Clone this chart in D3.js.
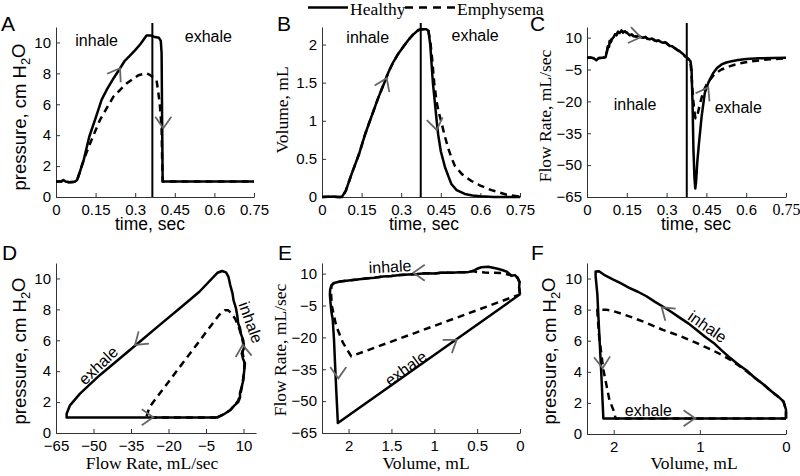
<!DOCTYPE html>
<html><head><meta charset="utf-8">
<script src="https://cdn.jsdelivr.net/npm/d3@7"></script>
<style>body{margin:0;background:#fff} svg{display:block}</style>
</head><body>
<script>
// ---------------- DATA ----------------
const seriesNames = ["Healthy", "Emphysema"];
const timeTicks = [0, 0.15, 0.3, 0.45, 0.6, 0.75];
const timeTickLabels = ["0", "0.15", "0.3", "0.45", "0.6", "0.75"];
const pressureTicks = [0, 2, 4, 6, 8, 10];
const pressureTickLabels = ["0", "2", "4", "6", "8", "10"];
const volumeTicks = [0, 0.5, 1, 1.5, 2];
const volumeTickLabels = ["0", "0.5", "1", "1.5", "2"];
const flowTicks = [10, -5, -20, -35, -50, -65];
const flowTickLabels = ["10", "\u22125", "\u221220", "\u221235", "\u221250", "\u221265"];
const flowXTicks = [-65, -50, -35, -20, -5, 10];
const flowXTickLabels = ["\u221265", "\u221250", "\u221235", "\u221220", "\u22125", "10"];
const volXTicksE = [2, 1.5, 1, 0.5, 0];
const volXTickLabelsE = ["2", "1.5", "1", "0.5", "0"];
const volXTicksF = [2, 1, 0];
const volXTickLabelsF = ["2", "1", "0"];

// A: pressure vs time  [t, p]
const aHealthy = [[0,1.0],[0.02,1.0],[0.028,1.1],[0.036,1.0],[0.05,0.95],[0.07,0.98],[0.08,1.1],[0.09,1.6],[0.105,2.4],[0.126,3.9],[0.15,5.1],[0.173,6.3],[0.194,7.0],[0.215,7.6],[0.238,8.2],[0.26,8.8],[0.28,9.15],[0.3,9.5],[0.32,9.9],[0.343,10.45],[0.36,10.45],[0.375,10.35],[0.39,10.3],[0.397,10.1],[0.4,9.3],[0.402,5.0],[0.404,1.0],[0.75,1.0]];
const aEmph = [[0,1.0],[0.02,1.0],[0.028,1.1],[0.036,1.0],[0.05,0.95],[0.07,0.98],[0.08,1.1],[0.09,1.6],[0.105,2.4],[0.129,3.46],[0.166,4.97],[0.217,6.48],[0.267,7.34],[0.312,7.88],[0.343,8.0],[0.356,7.9],[0.372,7.7],[0.381,7.55],[0.388,6.7],[0.394,5.83],[0.4,4.5],[0.402,2.5],[0.404,1.0],[0.75,1.0]];
// B: volume vs time  [t, V]
const bHealthy = [[0,0],[0.04,0.005],[0.06,0],[0.075,0],[0.09,0.08],[0.113,0.31],[0.14,0.56],[0.164,0.83],[0.19,1.08],[0.214,1.31],[0.235,1.49],[0.252,1.64],[0.27,1.77],[0.289,1.88],[0.31,1.98],[0.327,2.06],[0.345,2.13],[0.365,2.19],[0.38,2.2],[0.395,2.2],[0.403,2.18],[0.41,2.0],[0.415,1.75],[0.42,1.5],[0.428,1.22],[0.435,0.98],[0.44,0.82],[0.45,0.6],[0.466,0.39],[0.48,0.26],[0.49,0.17],[0.51,0.09],[0.541,0.04],[0.57,0.02],[0.6,0.01],[0.65,0],[0.75,0]];
const bEmph = [[0,0],[0.04,0.005],[0.06,0],[0.075,0],[0.09,0.08],[0.113,0.31],[0.14,0.56],[0.164,0.83],[0.19,1.08],[0.214,1.31],[0.235,1.49],[0.252,1.64],[0.27,1.77],[0.289,1.88],[0.31,1.98],[0.327,2.06],[0.345,2.13],[0.365,2.19],[0.38,2.2],[0.395,2.2],[0.403,2.18],[0.41,2.05],[0.417,1.82],[0.425,1.5],[0.434,1.25],[0.443,1.1],[0.453,0.97],[0.465,0.8],[0.478,0.64],[0.49,0.52],[0.503,0.41],[0.53,0.3],[0.566,0.21],[0.6,0.15],[0.642,0.09],[0.7,0.03],[0.75,0.005]];
// C: flow rate vs time  [t, F]
const cHealthy = [[0,0.5],[0.015,0.6],[0.025,0.3],[0.035,-0.6],[0.045,0.4],[0.06,0.5],[0.07,0.8],[0.075,3.5],[0.079,6],[0.083,5.6],[0.086,8.4],[0.09,8.0],[0.093,9.2],[0.1,10.2],[0.106,11.6],[0.111,11.2],[0.117,12.7],[0.123,12.2],[0.13,13.4],[0.136,12.4],[0.142,12.9],[0.148,12.5],[0.155,11.8],[0.161,11.1],[0.168,11.5],[0.175,10.8],[0.186,10.5],[0.195,10.9],[0.205,10.1],[0.211,10.0],[0.22,10.3],[0.228,9.5],[0.237,9.2],[0.245,9.6],[0.255,8.7],[0.262,8.4],[0.27,8.6],[0.28,7.9],[0.287,7.6],[0.295,7.8],[0.303,7.0],[0.312,6.1],[0.32,6.0],[0.328,5.3],[0.337,4.5],[0.345,3.9],[0.356,2.9],[0.363,2.2],[0.369,1.3],[0.375,0.8],[0.381,0.05],[0.386,-0.5],[0.39,-1.1],[0.394,-5],[0.398,-22],[0.401,-42],[0.405,-56],[0.408,-61],[0.411,-58],[0.416,-48],[0.422,-39.7],[0.432,-27.1],[0.444,-16],[0.457,-11.3],[0.476,-6.6],[0.49,-4.3],[0.507,-2.6],[0.525,-1.7],[0.545,-1.1],[0.57,-0.5],[0.6,-0.1],[0.65,0.3],[0.7,0.4],[0.75,0.5]];
const cEmphExhale = [[0.394,-8],[0.398,-15],[0.401,-20],[0.405,-25],[0.409,-28],[0.415,-27],[0.425,-21.6],[0.438,-15.3],[0.455,-11],[0.475,-8],[0.488,-6.5],[0.507,-5],[0.54,-3.4],[0.57,-2.2],[0.62,-1.1],[0.68,-0.3],[0.75,0.2]];
// D: pressure vs flow rate  [F, p]
const dHealthy = [[-0.7,1.0],[2,1.2],[4.6,1.47],[6.5,1.8],[7.9,2.0],[8.6,2.3],[8.6,2.6],[9.3,3.0],[9.9,3.4],[10.2,3.9],[10.6,4.5],[9.8,4.8],[9.3,5.14],[10.2,5.5],[9.9,6.0],[9.0,6.4],[8.6,6.8],[7.9,7.08],[7.5,7.6],[7.0,8.06],[6.0,8.6],[5.6,9.03],[4.7,9.57],[4.0,10.1],[3.0,10.39],[1.4,10.48],[-0.35,10.37],[-7.65,9.14],[-15.6,8.06],[-23.6,6.98],[-31.5,5.9],[-39.5,4.82],[-47.5,3.74],[-55.4,2.55],[-59.4,1.79],[-60.75,1.25],[-60.75,1.0],[-0.7,1.0]];
const dEmph = [[-0.7,1.0],[2,1.2],[4.6,1.47],[6.5,1.8],[7.9,2.1],[8.9,2.6],[9.6,3.2],[10.2,3.9],[10.4,4.6],[9.6,5.2],[9.9,5.8],[9.0,6.4],[8.0,6.9],[6.8,7.35],[5.2,7.75],[3.8,7.95],[2.6,7.95],[1.5,7.8],[0.3,7.65],[-27.6,1.68],[-28.9,1.0],[-0.7,1.0]];
// E: flow rate vs volume  [V, F]
const eHealthy = [[0,0.25],[0.01,3.5],[0.005,6],[0.03,8.2],[0.06,9.3],[0.1,9.0],[0.15,10.8],[0.2,11.6],[0.25,12.2],[0.3,12.6],[0.37,13.2],[0.45,13.0],[0.5,12.3],[0.55,11.2],[0.62,10.6],[0.7,10.7],[0.8,10.4],[0.9,10.5],[1.0,10.1],[1.1,10.2],[1.2,9.8],[1.3,9.6],[1.4,9.3],[1.5,8.9],[1.6,8.6],[1.7,8.1],[1.8,7.7],[1.9,7.2],[2.0,6.8],[2.1,6.3],[2.17,5.6],[2.2,4.5],[2.215,2.5],[2.218,0],[2.21,-4],[2.2,-8],[2.185,-11.6],[2.17,-21],[2.16,-30.4],[2.144,-44.6],[2.135,-52],[2.125,-60.3],[0,0.25]];
const eEmph = [[0,0.25],[0.01,3.5],[0.005,6],[0.03,8.2],[0.06,7.5],[0.1,9.2],[0.2,10.2],[0.3,10.4],[0.41,10.5],[0.5,10.8],[0.55,11.2],[0.62,10.6],[0.7,10.7],[0.8,10.4],[0.9,10.5],[1.0,10.1],[1.1,10.2],[1.2,9.8],[1.3,9.6],[1.4,9.3],[1.5,8.9],[1.6,8.6],[1.7,8.1],[1.8,7.7],[1.9,7.2],[2.0,6.8],[2.1,6.3],[2.17,5.6],[2.2,4.5],[2.205,1],[2.195,-5.3],[2.144,-14.7],[2.066,-22.5],[1.969,-28.9],[1.0,-14.6],[0.5,-7.2],[0,0.25]];
// F: pressure vs volume  [V, p]
const fHealthy = [[0,1.0],[0,1.57],[0.03,2.1],[0.09,2.4],[0.17,2.75],[0.26,3.18],[0.36,3.6],[0.46,4.1],[0.55,4.45],[0.65,4.9],[0.75,5.4],[0.84,5.86],[0.94,6.25],[1.04,6.7],[1.13,7.1],[1.23,7.47],[1.33,7.85],[1.43,8.2],[1.52,8.5],[1.62,8.86],[1.72,9.15],[1.82,9.4],[1.92,9.7],[2.01,9.94],[2.1,10.2],[2.17,10.47],[2.21,10.45],[2.21,10.15],[2.19,9.0],[2.17,6.7],[2.145,4.0],[2.12,1.0],[0,1.0]];
const fEmph = [[0,1.0],[0,1.57],[0.03,2.1],[0.09,2.4],[0.17,2.75],[0.26,3.18],[0.36,3.6],[0.46,4.05],[0.55,4.4],[0.65,4.79],[0.75,5.1],[0.84,5.35],[0.94,5.6],[1.04,5.86],[1.23,6.3],[1.43,6.7],[1.62,7.15],[1.82,7.57],[2.0,7.9],[2.09,8.0],[2.19,8.0],[2.19,7.9],[2.17,6.3],[2.12,4.14],[2.05,2.2],[1.99,1.35],[1.98,1.0],[0,1.0]];

// transition time markers (sec)
const markerTimes = {A: 0.365, B: 0.374, C: 0.376};

// direction arrows: [x, y, pointing angle in degrees]
const arrowsA = [[0.2424,8.33,-58],[0.4064,4.45,90]];
const arrowsB = [[0.245,1.557,-66],[0.4345,0.879,80]];
const arrowsC = [[0.2024,10.15,11],[0.457,-13.4,-60]];
const arrowsD = [[-33.4,5.7,140],[-26.1,1.02,0],[9.68,5.7,-95]];
const arrowsE = [[1.245,10.4,180],[2.12,-39.3,90],[0.739,-21.2,-35]];
const arrowsF = [[1.443,8.15,-140],[2.128,4.23,87],[1.056,1.01,0]];

// phase labels: [text, x, y, rotation]
const labelsA = [["inhale",0.154,10.15,0],["exhale",0.577,10.4,0]];
const labelsB = [["inhale",0.173,2.095,0],["exhale",0.58,2.125,0]];
const labelsC = [["inhale",0.181,-21.7,0],["exhale",0.57,-22.8,0]];
const labelsD = [["exhale",-48.1,4.37,-43.6],["inhale",12.9,7.15,70]];
const labelsE = [["inhale",1.517,13.25,-3],["exhale",1.332,-34.6,-35.7]];
const labelsF = [["inhale",0.911,6.9,34.9],["exhale",1.598,1.54,0]];

// ---------------- RENDER ----------------
const SANS = "'Liberation Sans', Arial, Helvetica, sans-serif";
const SERIF = "'Liberation Serif', 'Times New Roman', serif";
const svg = d3.select("body").append("svg").attr("width", 800).attr("height", 476);
svg.append("rect").attr("width", 800).attr("height", 476).attr("fill", "#fff");

const panels = [
  {id:"A", box:[56,254,27,197], xDomain:[0,0.75], yDomain:[0,11], xTicks:timeTicks, xTL:timeTickLabels, yTicks:pressureTicks, yTL:pressureTickLabels,
   series:[aHealthy,aEmph], marker:markerTimes.A, arrows:arrowsA, labels:labelsA, letter:[1,31],
   xLabel:{t:"time, sec", f:SANS, s:17.5, x:150, y:229.5}, yLabel:{t:"pressure", f:SANS, s:18.5, x:20, y:117}},
  {id:"B", box:[322,520,27,197], xDomain:[0,0.75], yDomain:[0,2.23], xTicks:timeTicks, xTL:timeTickLabels, yTicks:volumeTicks, yTL:volumeTickLabels,
   series:[bHealthy,bEmph], marker:markerTimes.B, arrows:arrowsB, labels:labelsB, letter:[277,31],
   xLabel:{t:"time, sec", f:SANS, s:17.5, x:424, y:229.5}, yLabel:{t:"Volume, mL", f:SERIF, s:17.5, x:282, y:110}},
  {id:"C", box:[587,786,27,197], xDomain:[0,0.75], yDomain:[-65,15], xTicks:timeTicks, xTL:timeTickLabels, yTicks:flowTicks, yTL:flowTickLabels,
   series:[cHealthy, cHealthy.filter(d=>d[0]<=0.39).concat(cEmphExhale)], marker:markerTimes.C, arrows:arrowsC, labels:labelsC, letter:[530,31],
   xLabel:{t:"time, sec", f:SANS, s:17.5, x:696, y:229.5}, yLabel:{t:"Flow Rate, mL/sec", f:SERIF, s:17.5, x:545, y:116}, lastXTickSerif:true},
  {id:"D", box:[56,256,263,433], xDomain:[-65,15], yDomain:[0,11], xTicks:flowXTicks, xTL:flowXTickLabels, yTicks:pressureTicks, yTL:pressureTickLabels,
   series:[dHealthy,dEmph], arrows:arrowsD, labels:labelsD, letter:[2,260],
   xLabel:{t:"Flow Rate, mL/sec", f:SERIF, s:17.5, x:152, y:468.5}, yLabel:{t:"pressure", f:SANS, s:18.5, x:20, y:351}},
  {id:"E", box:[322,520,263,433], xDomain:[2.31,0], yDomain:[-65,15], xTicks:volXTicksE, xTL:volXTickLabelsE, yTicks:flowTicks, yTL:flowTickLabels,
   series:[eHealthy,eEmph], arrows:arrowsE, labels:labelsE, letter:[278,260],
   xLabel:{t:"Volume, mL", f:SERIF, s:17.5, x:426, y:468.5}, yLabel:{t:"Flow Rate, mL/sec", f:SERIF, s:17.5, x:280, y:350}},
  {id:"F", box:[587,786,263,434], xDomain:[2.31,0], yDomain:[0,11], xTicks:volXTicksF, xTL:volXTickLabelsF, yTicks:pressureTicks, yTL:pressureTickLabels,
   series:[fHealthy,fEmph], arrows:arrowsF, labels:labelsF, letter:[531,260],
   xLabel:{t:"Volume, mL", f:SERIF, s:17.5, x:694, y:468.5}, yLabel:{t:"pressure", f:SANS, s:18.5, x:550, y:351}}
];

function arrowPath(px, py, ang) {
  const L = 14, h = 35 * Math.PI / 180, a = (ang + 180) * Math.PI / 180;
  return `M${px + L*Math.cos(a+h)},${py + L*Math.sin(a+h)}L${px},${py}L${px + L*Math.cos(a-h)},${py + L*Math.sin(a-h)}`;
}

panels.forEach(p => {
  const [l, r, t, b] = p.box;
  const x = d3.scaleLinear().domain(p.xDomain).range([l, r]);
  const y = d3.scaleLinear().domain(p.yDomain).range([b, t]);
  const g = svg.append("g");

  const xa = g.append("g").attr("transform", `translate(0,${b})`)
    .call(d3.axisBottom(x).tickValues(p.xTicks).tickFormat((d,i)=>p.xTL[i]).tickSizeInner(-4).tickSizeOuter(0).tickPadding(7));
  const ya = g.append("g").attr("transform", `translate(${l},0)`)
    .call(d3.axisLeft(y).tickValues(p.yTicks).tickFormat((d,i)=>p.yTL[i]).tickSizeInner(-4).tickSizeOuter(0).tickPadding(5));
  [xa, ya].forEach(a => {
    a.attr("font-family", SANS).attr("font-size", 15);
    a.selectAll("path,line").attr("stroke", "#333").attr("stroke-width", 1);
    a.selectAll("text").attr("fill", "#000");
  });
  if (p.lastXTickSerif) xa.selectAll(".tick:last-of-type text").attr("font-family", SERIF).attr("font-size", 16);

  // marker
  if (p.marker !== undefined) {
    g.append("line").attr("x1", x(p.marker)).attr("x2", x(p.marker)).attr("y1", t - 4).attr("y2", b)
      .attr("stroke", "#000").attr("stroke-width", 2);
  }

  const line = d3.line().x(d => x(d[0])).y(d => y(d[1]));
  // emphysema (dashed) then healthy (solid)
  g.append("path").datum(p.series[1]).attr("d", line).attr("fill", "none").attr("stroke", "#000")
    .attr("stroke-width", 2.5).attr("stroke-dasharray", "7,5").attr("stroke-linejoin", "round");
  g.append("path").datum(p.series[0]).attr("d", line).attr("fill", "none").attr("stroke", "#000")
    .attr("stroke-width", 2.5).attr("stroke-linejoin", "round");

  // arrows
  g.selectAll(".arr").data(p.arrows).join("path")
    .attr("d", d => arrowPath(x(d[0]), y(d[1]), d[2]))
    .attr("fill", "none").attr("stroke", "#666").attr("stroke-width", 1.8);

  // phase labels
  g.selectAll(".lab").data(p.labels).join("text")
    .attr("transform", d => `translate(${x(d[1])},${y(d[2])}) rotate(${d[3]})`)
    .attr("text-anchor", "middle").attr("dominant-baseline", "central")
    .attr("font-family", SANS).attr("font-size", 16).text(d => d[0]);

  // panel letter
  g.append("text").attr("x", p.letter[0]).attr("y", p.letter[1]).attr("font-family", SANS).attr("font-size", 21).text(p.id);

  // x label
  g.append("text").attr("x", p.xLabel.x).attr("y", p.xLabel.y).attr("text-anchor", "middle")
    .attr("font-family", p.xLabel.f).attr("font-size", p.xLabel.s).text(p.xLabel.t);
  // y label
  const yl = g.append("text").attr("transform", `translate(${p.yLabel.x},${p.yLabel.y}) rotate(-90)`)
    .attr("text-anchor", "middle").attr("dy", "0.35em")
    .attr("font-family", p.yLabel.f).attr("font-size", p.yLabel.s);
  if (p.yLabel.t === "pressure") {
    yl.append("tspan").text("pressure, cm H");
    yl.append("tspan").attr("dy", "0.3em").attr("font-size", 13).text("2");
    yl.append("tspan").attr("dy", "-0.3em").text("O");
  } else yl.text(p.yLabel.t);
});

// legend
const leg = svg.append("g");
const legendItems = [{name: seriesNames[0], x1: 308, x2: 348, dash: null}, {name: seriesNames[1], x1: 405, x2: 455, dash: "8,6"}];
legendItems.forEach(it => {
  leg.append("line").attr("x1", it.x1).attr("x2", it.x2).attr("y1", 7.5).attr("y2", 7.5)
    .attr("stroke", "#000").attr("stroke-width", 2.5).attr("stroke-dasharray", it.dash);
  leg.append("text").attr("x", it.x2 + 2).attr("y", 14.5).attr("font-family", SERIF).attr("font-size", 17.5).text(it.name);
});
</script>
</body></html>
